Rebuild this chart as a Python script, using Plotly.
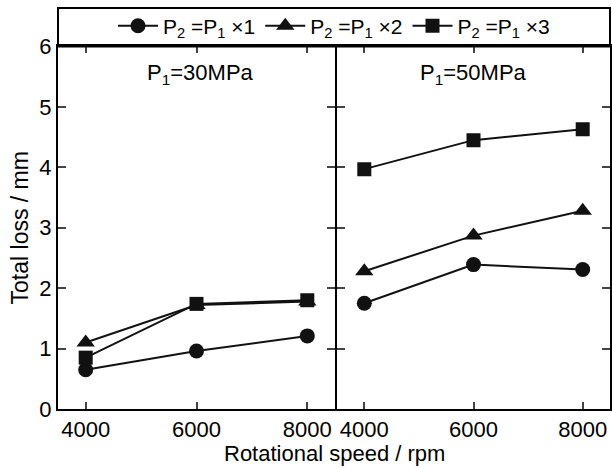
import plotly.graph_objects as go
from plotly.subplots import make_subplots

speeds = [4000, 6000, 8000]
panel_titles = ["P<sub>1</sub>=30MPa", "P<sub>1</sub>=50MPa"]
series_names = ["P<sub>2</sub> =P<sub>1</sub> ×1", "P<sub>2</sub> =P<sub>1</sub> ×2", "P<sub>2</sub> =P<sub>1</sub> ×3"]
# P1 = 30 MPa
loss30_x1 = [0.65, 0.96, 1.21]
loss30_x2 = [1.10, 1.72, 1.78]
loss30_x3 = [0.85, 1.74, 1.80]
# P1 = 50 MPa
loss50_x1 = [1.75, 2.39, 2.31]
loss50_x2 = [2.28, 2.87, 3.28]
loss50_x3 = [3.97, 4.45, 4.63]

symbols = ["circle", "triangle-up", "square"]
sizes = [15, 16, 14]
FONT = "Liberation Sans, Arial, sans-serif"

fig = make_subplots(rows=1, cols=2, shared_yaxes=True, horizontal_spacing=0)
panels = [[loss30_x1, loss30_x2, loss30_x3], [loss50_x1, loss50_x2, loss50_x3]]
for c, data in enumerate(panels, start=1):
    for i, vals in enumerate(data):
        fig.add_trace(go.Scatter(
            x=speeds, y=vals, mode="lines+markers", name=series_names[i],
            line=dict(color="#111111", width=2),
            marker=dict(symbol=symbols[i], size=sizes[i], color="#111111"),
            showlegend=(c == 1), legendgroup=str(i)), row=1, col=c)

ytop = 0.904
ax_common = dict(range=[3500, 8500], tickvals=speeds, ticks="inside", ticklen=7, tickwidth=1.5,
                 showline=True, linewidth=2, linecolor="black", mirror="ticks", showgrid=False,
                 zeroline=False, tickfont=dict(size=22, family=FONT, color="black"))
fig.update_layout(
    xaxis=dict(domain=[0, 277 / 552], **ax_common),
    xaxis2=dict(domain=[279 / 552, 1], **ax_common),
)
ay_common = dict(range=[0, 6], dtick=1, ticks="inside", ticklen=8, tickwidth=1.5,
                 showline=True, linewidth=2, linecolor="black", mirror="ticks", showgrid=False,
                 zeroline=False, domain=[0, ytop], tickfont=dict(size=22, family=FONT, color="black"))
fig.update_layout(
    yaxis=dict(title=dict(text="Total loss / mm", font=dict(size=23, family=FONT, color="black"), standoff=4), **ay_common),
    yaxis2=dict(showticklabels=False, **ay_common),
)

# legend band box
fig.add_shape(type="rect", xref="paper", yref="paper", x0=0, x1=1, y0=ytop, y1=1,
              line=dict(color="black", width=2))

fig.add_annotation(text=panel_titles[0], xref="paper", yref="paper", x=0.258, y=0.835,
                   xanchor="center", yanchor="middle",
                   showarrow=False, font=dict(size=22, family=FONT, color="black"))
fig.add_annotation(text=panel_titles[1], xref="paper", yref="paper", x=0.753, y=0.835,
                   xanchor="center", yanchor="middle",
                   showarrow=False, font=dict(size=22, family=FONT, color="black"))
fig.add_annotation(text="Rotational speed / rpm", xref="paper", yref="paper", x=0.5, y=-0.11,
                   xanchor="center", yanchor="middle", showarrow=False,
                   font=dict(size=22, family=FONT, color="black"))

fig.update_layout(
    width=612, height=468,
    margin=dict(l=58, r=2, t=8, b=59, autoexpand=False),
    paper_bgcolor="white", plot_bgcolor="white",
    showlegend=True,
    legend=dict(orientation="h", x=0.5, xanchor="center", y=0.955, yanchor="middle",
                font=dict(size=21, family=FONT, color="black"), bgcolor="rgba(0,0,0,0)",
                itemsizing="trace", tracegroupgap=0, itemwidth=40),
    font=dict(family=FONT, color="black"),
)

fig.write_html("out.html", config={"displayModeBar": False},
               post_script="document.body.style.margin='0';")
